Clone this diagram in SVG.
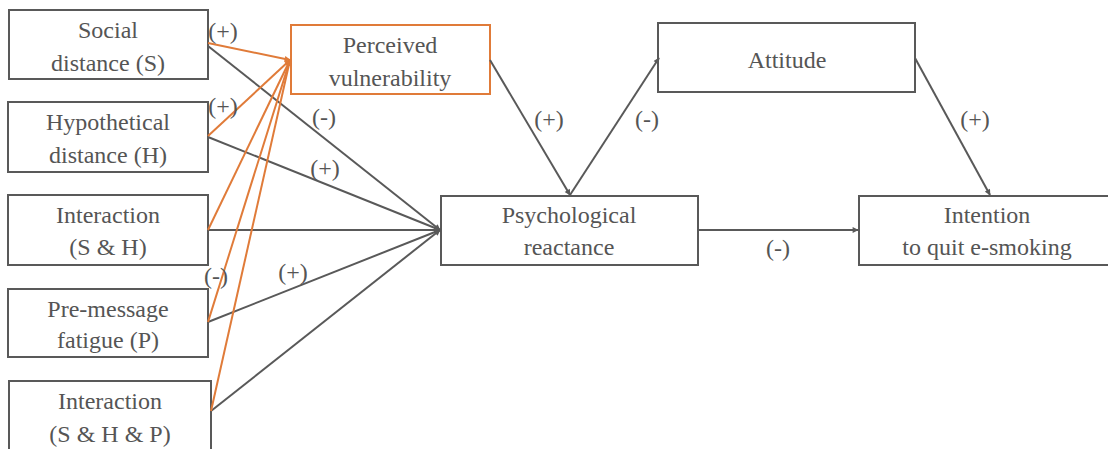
<svg xmlns="http://www.w3.org/2000/svg" width="1108" height="449" viewBox="0 0 1108 449">
<defs>
<style>
.box{fill:#fff;stroke:#595959;stroke-width:2}
.obox{fill:#fff;stroke:#E07B39;stroke-width:2}
.t{font-family:"Liberation Serif","Times New Roman",serif;font-size:24px;fill:#555555;text-anchor:middle}
.c{stroke:#595959;stroke-width:2;fill:none}
.o{stroke:#E07B39;stroke-width:2;fill:none}
</style>
<marker id="ad" viewBox="0 0 10 10" refX="9" refY="5" markerWidth="8" markerHeight="6" markerUnits="userSpaceOnUse" orient="auto"><path d="M0,0 L10,5 L0,10 z" fill="#595959"/></marker>
<marker id="ao" viewBox="0 0 10 10" refX="9" refY="5" markerWidth="8" markerHeight="6" markerUnits="userSpaceOnUse" orient="auto"><path d="M0,0 L10,5 L0,10 z" fill="#E07B39"/></marker>
</defs>
<rect width="1108" height="449" fill="#fff"/>
<g id="nodes">
<g id="S"><rect class="box" x="9" y="10" width="199" height="69"/><text class="t" x="108" y="38">Social</text><text class="t" x="108" y="71">distance (S)</text></g>
<g id="H"><rect class="box" x="8" y="102" width="200" height="70"/><text class="t" x="108" y="130">Hypothetical</text><text class="t" x="108" y="163">distance (H)</text></g>
<g id="SH"><rect class="box" x="8" y="195" width="200" height="70"/><text class="t" x="108" y="223">Interaction</text><text class="t" x="108" y="255">(S &amp; H)</text></g>
<g id="P"><rect class="box" x="8" y="289" width="200" height="68"/><text class="t" x="108" y="317">Pre-message</text><text class="t" x="108" y="348">fatigue (P)</text></g>
<g id="SHP"><rect class="box" x="9" y="381" width="202" height="80"/><text class="t" x="110" y="409">Interaction</text><text class="t" x="110" y="442">(S &amp; H &amp; P)</text></g>
<g id="PV"><rect class="obox" x="291" y="25" width="199" height="69"/><text class="t" x="390" y="53">Perceived</text><text class="t" x="390" y="86">vulnerability</text></g>
<g id="PR"><rect class="box" x="441" y="196" width="257" height="69"/><text class="t" x="569" y="223">Psychological</text><text class="t" x="569" y="255">reactance</text></g>
<g id="AT"><rect class="box" x="658" y="23" width="257" height="69"/><text class="t" x="787" y="68">Attitude</text></g>
<g id="IN"><rect class="box" x="859" y="196" width="260" height="69"/><text class="t" x="987" y="223">Intention</text><text class="t" x="987" y="255">to quit e-smoking</text></g>
</g>
<g id="connectors">
<line class="c" x1="208" y1="46" x2="440" y2="230" marker-end="url(#ad)"/>
<line class="c" x1="208" y1="137" x2="440" y2="230" marker-end="url(#ad)"/>
<line class="c" x1="208" y1="230" x2="440" y2="230" marker-end="url(#ad)"/>
<line class="c" x1="208" y1="322" x2="440" y2="230" marker-end="url(#ad)"/>
<line class="c" x1="211" y1="411" x2="440" y2="230" marker-end="url(#ad)"/>
<line class="o" x1="208" y1="43" x2="290" y2="60" marker-end="url(#ao)"/>
<line class="o" x1="208" y1="136" x2="290" y2="60" marker-end="url(#ao)"/>
<line class="o" x1="208" y1="230" x2="290" y2="60" marker-end="url(#ao)"/>
<line class="o" x1="208" y1="322" x2="290" y2="60" marker-end="url(#ao)"/>
<line class="o" x1="211" y1="411" x2="290" y2="60" marker-end="url(#ao)"/>
<line class="c" x1="490" y1="60" x2="570" y2="195" marker-end="url(#ad)"/>
<line class="c" x1="570" y1="195" x2="659" y2="58" marker-end="url(#ad)"/>
<line class="c" x1="915" y1="58" x2="990" y2="195" marker-end="url(#ad)"/>
<line class="c" x1="698" y1="230" x2="858" y2="230" marker-end="url(#ad)"/>
</g>
<g id="labels">
<text class="t" x="223" y="39">(+)</text>
<text class="t" x="223" y="114">(+)</text>
<text class="t" x="324" y="125">(-)</text>
<text class="t" x="325" y="176">(+)</text>
<text class="t" x="216" y="284">(-)</text>
<text class="t" x="293" y="280">(+)</text>
<text class="t" x="549" y="127">(+)</text>
<text class="t" x="647" y="127">(-)</text>
<text class="t" x="975" y="127">(+)</text>
<text class="t" x="778" y="256">(-)</text>
</g>
</svg>
